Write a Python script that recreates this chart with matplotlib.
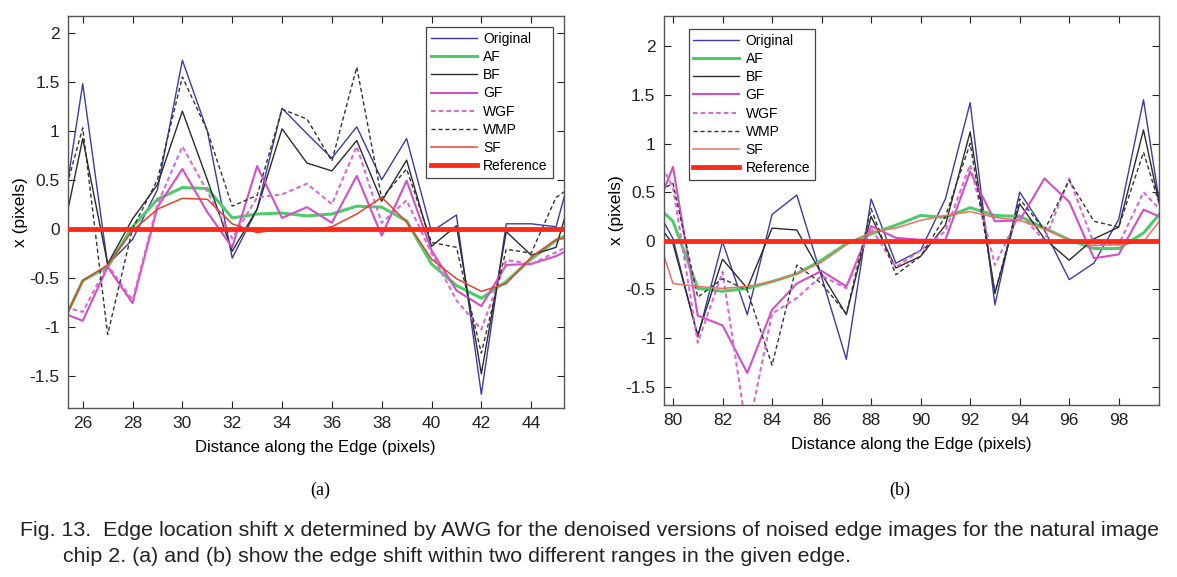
import numpy as np
import matplotlib.pyplot as plt
from matplotlib import font_manager

# available fonts
names = {f.name for f in font_manager.fontManager.ttflist}
sans = 'Liberation Sans' if 'Liberation Sans' in names else 'DejaVu Sans'
narrow = 'Liberation Sans Narrow' if 'Liberation Sans Narrow' in names else sans
serif = 'Liberation Serif' if 'Liberation Serif' in names else 'DejaVu Serif'
plt.rcParams['font.family'] = sans

# ---- data, panel (a) ----
x_a = list(range(25, 47))
orig_a = [-0.18, 1.48, -0.37, -0.11, 0.40, 1.72, 1.00, -0.30, 0.20, 1.23, 0.97,
          0.72, 1.04, 0.50, 0.92, -0.03, 0.14, -1.69, 0.05, 0.05, 0.02, 0.95]
af_a = [-1.07, -0.53, -0.39, 0.02, 0.30, 0.42, 0.41, 0.11, 0.15, 0.16, 0.13,
        0.15, 0.23, 0.22, 0.08, -0.36, -0.58, -0.71, -0.54, -0.31, -0.12, 0.01]
bf_a = [-0.30, 0.92, -0.36, 0.10, 0.45, 1.20, 0.50, -0.23, 0.20, 1.02, 0.67,
        0.59, 0.90, 0.28, 0.70, -0.18, 0.03, -1.48, -0.03, -0.27, -0.19, 0.68]
gf_a = [-0.84, -0.94, -0.39, -0.76, 0.22, 0.61, 0.17, -0.19, 0.64, 0.11, 0.22,
        0.06, 0.54, -0.07, 0.49, -0.22, -0.63, -0.79, -0.37, -0.36, -0.28, -0.15]
wgf_a = [-0.78, -0.85, -0.37, -0.73, 0.25, 0.84, 0.38, -0.10, 0.32, 0.35, 0.46,
         0.25, 0.84, 0.06, 0.29, -0.25, -0.73, -1.03, -0.32, -0.36, -0.24, -0.11]
wmp_a = [0.11, 1.03, -1.08, 0.00, 0.50, 1.55, 1.00, 0.23, 0.34, 1.22, 1.12,
         0.69, 1.65, 0.31, 0.61, -0.14, -0.19, -1.27, -0.21, -0.25, 0.32, 0.49]
sf_a = [-1.07, -0.53, -0.37, -0.02, 0.20, 0.31, 0.30, 0.05, -0.04, 0.00, -0.02,
        0.02, 0.15, 0.32, 0.07, -0.31, -0.51, -0.64, -0.56, -0.29, -0.11, -0.08]

# ---- data, panel (b) ----
x_b = list(range(79, 101))
orig_b = [0.49, 0.02, -0.99, -0.01, -0.76, 0.27, 0.47, -0.37, -1.22, 0.43, -0.23,
          -0.10, 0.43, 1.42, -0.66, 0.50, 0.11, -0.40, -0.23, 0.22, 1.45, -0.19]
af_b = [0.44, 0.20, -0.49, -0.52, -0.49, -0.42, -0.34, -0.20, -0.03, 0.07, 0.16,
        0.26, 0.24, 0.34, 0.26, 0.25, 0.13, 0.01, -0.08, -0.08, 0.08, 0.38]
bf_b = [0.29, -0.03, -0.97, -0.19, -0.49, 0.13, 0.11, -0.34, -0.76, 0.25, -0.28,
        -0.16, 0.16, 1.12, -0.54, 0.38, 0.02, -0.20, 0.02, 0.14, 1.14, -0.05]
gf_b = [0.11, 0.76, -0.77, -0.87, -1.36, -0.71, -0.44, -0.31, -0.47, 0.15, 0.03,
        0.01, 0.01, 0.71, 0.20, 0.21, 0.64, 0.40, -0.18, -0.14, 0.32, 0.21]
wgf_b = [1.04, 0.55, -1.05, -0.32, -2.00, -0.75, -0.59, -0.36, -0.49, 0.13, -0.27,
         -0.10, 0.10, 0.78, -0.25, 0.28, 0.00, 0.64, -0.03, -0.04, 0.50, 0.23]
wmp_b = [0.45, 0.59, -0.58, -0.39, -0.51, -1.28, -0.25, -0.44, -0.75, 0.33, -0.35,
         -0.16, 0.25, 1.00, -0.54, 0.43, 0.11, 0.62, 0.20, 0.14, 0.91, 0.08]
sf_b = [0.34, -0.44, -0.47, -0.49, -0.47, -0.42, -0.34, -0.22, -0.04, 0.09, 0.13,
        0.21, 0.26, 0.30, 0.24, 0.21, 0.12, 0.01, -0.05, -0.04, -0.01, 0.32]

labels = ['Original', 'AF', 'BF', 'GF', 'WGF', 'WMP', 'SF', 'Reference']
yticks = [-1.5, -1, -0.5, 0, 0.5, 1, 1.5, 2]
ytick_labels = ['-1.5', '-1', '-0.5', '0', '0.5', '1', '1.5', '2']


def draw_panel(ax, x, series, sf_color, xlim, ylim, xticks):
    orig, af, bf, gf, wgf, wmp, sf = series
    ax.plot(x, orig, color='#3b3ba6', lw=1.0, label=labels[0])
    ax.plot(x, af, color='#4ccb6a', lw=2.2, label=labels[1])
    ax.plot(x, bf, color='#2b2b2b', lw=1.0, label=labels[2])
    ax.plot(x, gf, color='#d24fc6', lw=1.5, label=labels[3])
    ax.plot(x, wgf, color='#d86ad0', lw=1.5, ls=(0, (2.2, 1.5)), label=labels[4])
    ax.plot(x, wmp, color='#333333', lw=1.0, ls=(0, (3, 2)), label=labels[5])
    ax.plot(x, sf, color=sf_color, lw=1.1, label=labels[6])
    ax.plot(x, np.zeros(len(x)), color='#ff2a18', lw=3.5, label=labels[7], zorder=5)

    ax.set_xlim(xlim)
    ax.set_ylim(ylim)
    ax.set_xticks(xticks)
    ax.set_yticks(yticks)
    ax.set_yticklabels(ytick_labels)
    ax.tick_params(direction='in', top=True, right=True, length=5, width=0.8,
                   labelsize=12.5, colors='#222222', pad=6)
    for sp in ax.spines.values():
        sp.set_color('#555555')
        sp.set_linewidth(1.0)
    ax.set_xlabel('Distance along the Edge (pixels)', fontsize=12, labelpad=6)
    ax.set_ylabel('x (pixels)', fontsize=12.5, labelpad=1)


fig = plt.figure(figsize=(11.77, 5.77), dpi=100)
ax1 = fig.add_axes([0.0578, 0.293, 0.421, 0.679])
ax2 = fig.add_axes([0.564, 0.298, 0.421, 0.674])

draw_panel(ax1, x_a, [orig_a, af_a, bf_a, gf_a, wgf_a, wmp_a, sf_a], '#e4402a',
           (25.41, 45.3), (-1.83, 2.17), list(range(26, 45, 2)))
draw_panel(ax2, x_b, [orig_b, af_b, bf_b, gf_b, wgf_b, wmp_b, sf_b], '#ee7060',
           (79.63, 99.64), (-1.69, 2.31), list(range(80, 99, 2)))

leg_kw = dict(fontsize=10, labelspacing=0.3, handlelength=3.3, handletextpad=0.45,
              borderpad=0.35, borderaxespad=0, fancybox=False, framealpha=1)
l1 = ax1.legend(loc='upper right', bbox_to_anchor=(0.978, 0.972), **leg_kw)
l2 = ax2.legend(loc='upper left', bbox_to_anchor=(0.05, 0.967), **leg_kw)
for lg in (l1, l2):
    lg.get_frame().set_edgecolor('#444444')
    lg.get_frame().set_linewidth(0.9)

fig.text(320 / 1177, 1 - 490 / 577, '(a)', ha='center', va='center',
         fontsize=13, family=serif)
fig.text(900 / 1177, 1 - 490 / 577, '(b)', ha='center', va='center',
         fontsize=13, family=serif)

fig.text(20 / 1177, 1 - 530 / 577,
         'Fig. 13.  Edge location shift x determined by AWG for the denoised versions '
         'of noised edge images for the natural image',
         ha='left', va='center', fontsize=15.4, family=narrow, color='#222222')
fig.text(63 / 1177, 1 - 557 / 577,
         'chip 2. (a) and (b) show the edge shift within two different ranges in the given edge.',
         ha='left', va='center', fontsize=15.4, family=narrow, color='#222222')

fig.savefig('out.png', dpi=100, facecolor='white')
